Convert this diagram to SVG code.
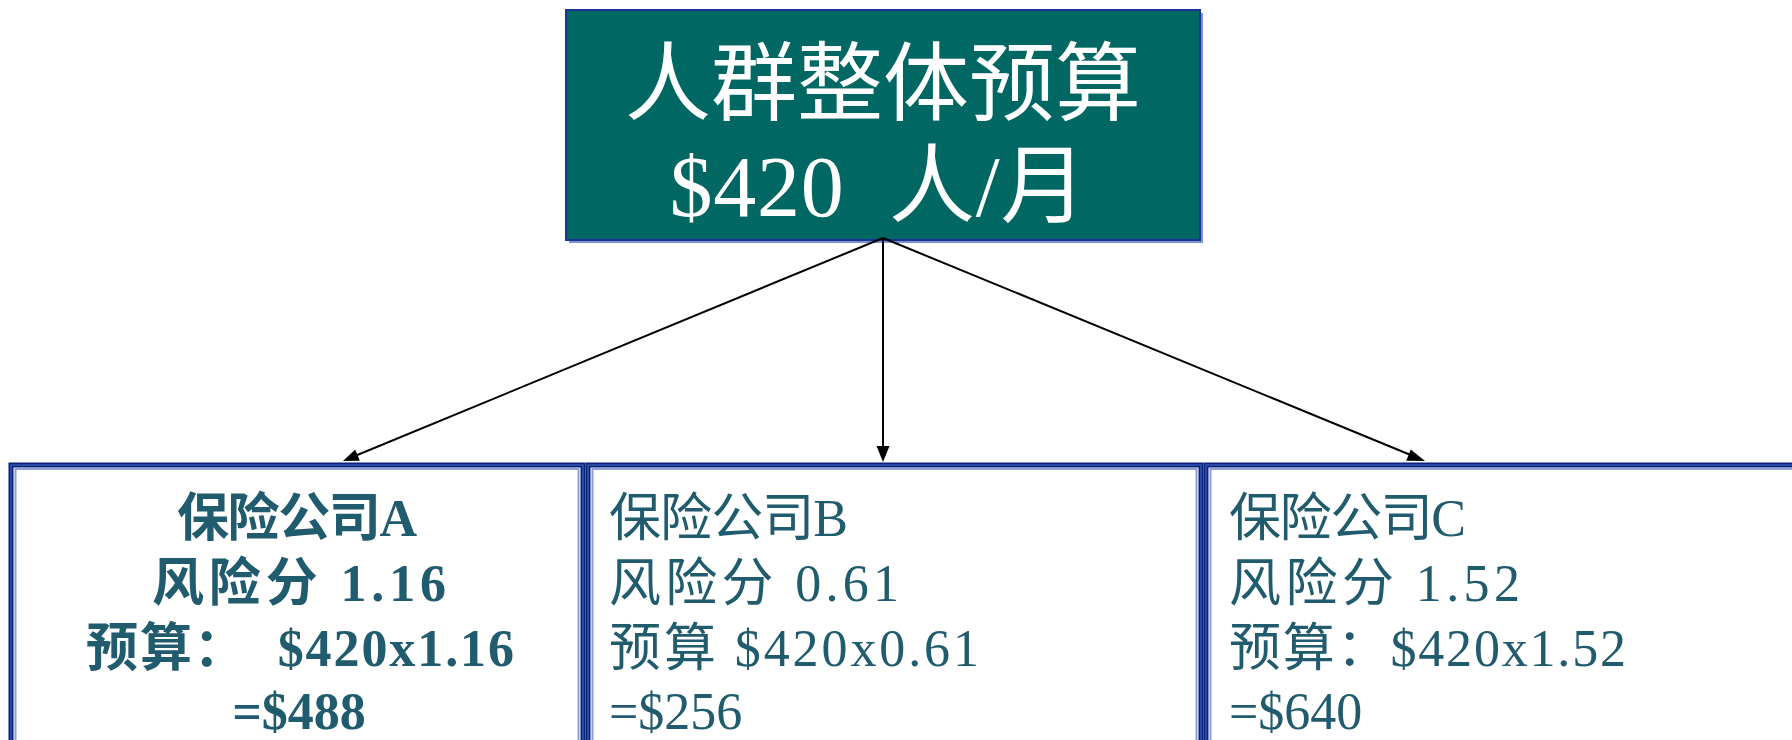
<svg xmlns="http://www.w3.org/2000/svg" width="1792" height="740" viewBox="0 0 1792 740">
<defs>
<style>
.bg{fill:#ffffff}
.t{font-family:"Liberation Serif","Noto Sans CJK SC",serif;fill:#215B6E;font-size:52px}
.tb{font-weight:bold}
.top{font-family:"Liberation Serif","Noto Sans CJK SC",serif;fill:#ffffff;font-size:86px}
.outer{fill:#ffffff;stroke:#0A2278;stroke-width:5}
.mid{fill:none;stroke:#3456B4;stroke-width:1.5}
.inner{fill:none;stroke:#8CA0D8;stroke-width:2}
.conn{stroke:#000000;stroke-width:2;fill:none}
.head{fill:#000000}
</style>
</defs>
<rect class="bg" x="0" y="0" width="1792" height="740"/>

<g id="top">
<rect x="569" y="13" width="634" height="230" fill="#7F90D0"/>
<rect x="566" y="10" width="634" height="230" fill="#006763" stroke="#1A3496" stroke-width="2"/>
<text class="top" x="883" y="114" text-anchor="middle">人群整体预算</text>
<text class="top" x="878" y="216" text-anchor="middle" xml:space="preserve" textLength="417" lengthAdjust="spacing">$420  人/月</text>
</g>

<g id="connectors">
<line class="conn" x1="883" y1="238" x2="350" y2="458"/>
<line class="conn" x1="883" y1="238" x2="883" y2="450"/>
<line class="conn" x1="883" y1="238" x2="1418" y2="458"/>
<path class="head" d="M343,461 L355.2,449.6 L359.8,460.7 z"/>
<path class="head" d="M883,462 L876.5,446 L889.5,446 z"/>
<path class="head" d="M1425,461 L1406.2,460.7 L1410.8,449.6 z"/>
</g>

<g id="boxA">
<rect class="outer" x="11" y="465" width="572" height="290"/>
<rect class="mid" x="11" y="465" width="572" height="290"/>
<rect class="inner" x="15.5" y="469" width="563" height="290"/>
<text class="t tb" x="297" y="536" text-anchor="middle" textLength="240" lengthAdjust="spacing">保险公司A</text>
<text class="t tb" x="299" y="601" text-anchor="middle" textLength="294" lengthAdjust="spacing">风险分 1.16</text>
<text class="t tb" x="300" y="666" text-anchor="middle" textLength="428" lengthAdjust="spacing" xml:space="preserve">预算：  $420x1.16</text>
<text class="t tb" x="299" y="729" text-anchor="middle">=$488</text>
</g>

<g id="boxB">
<rect class="outer" x="588" y="465" width="613" height="290"/>
<rect class="mid" x="588" y="465" width="613" height="290"/>
<rect class="inner" x="592.5" y="469" width="604" height="290"/>
<text class="t" x="609" y="536" textLength="239" lengthAdjust="spacing">保险公司B</text>
<text class="t" x="609" y="601" textLength="290" lengthAdjust="spacing">风险分 0.61</text>
<text class="t" x="609" y="666" textLength="370" lengthAdjust="spacing">预算 $420x0.61</text>
<text class="t" x="609" y="729">=$256</text>
</g>

<g id="boxC">
<rect class="outer" x="1206" y="465" width="600" height="290"/>
<rect class="mid" x="1206" y="465" width="600" height="290"/>
<rect class="inner" x="1210.5" y="469" width="600" height="290"/>
<text class="t" x="1229" y="536" textLength="237" lengthAdjust="spacing">保险公司C</text>
<text class="t" x="1229" y="601" textLength="291" lengthAdjust="spacing">风险分 1.52</text>
<text class="t" x="1229" y="666" textLength="397" lengthAdjust="spacing">预算：$420x1.52</text>
<text class="t" x="1229" y="729">=$640</text>
</g>
</svg>
